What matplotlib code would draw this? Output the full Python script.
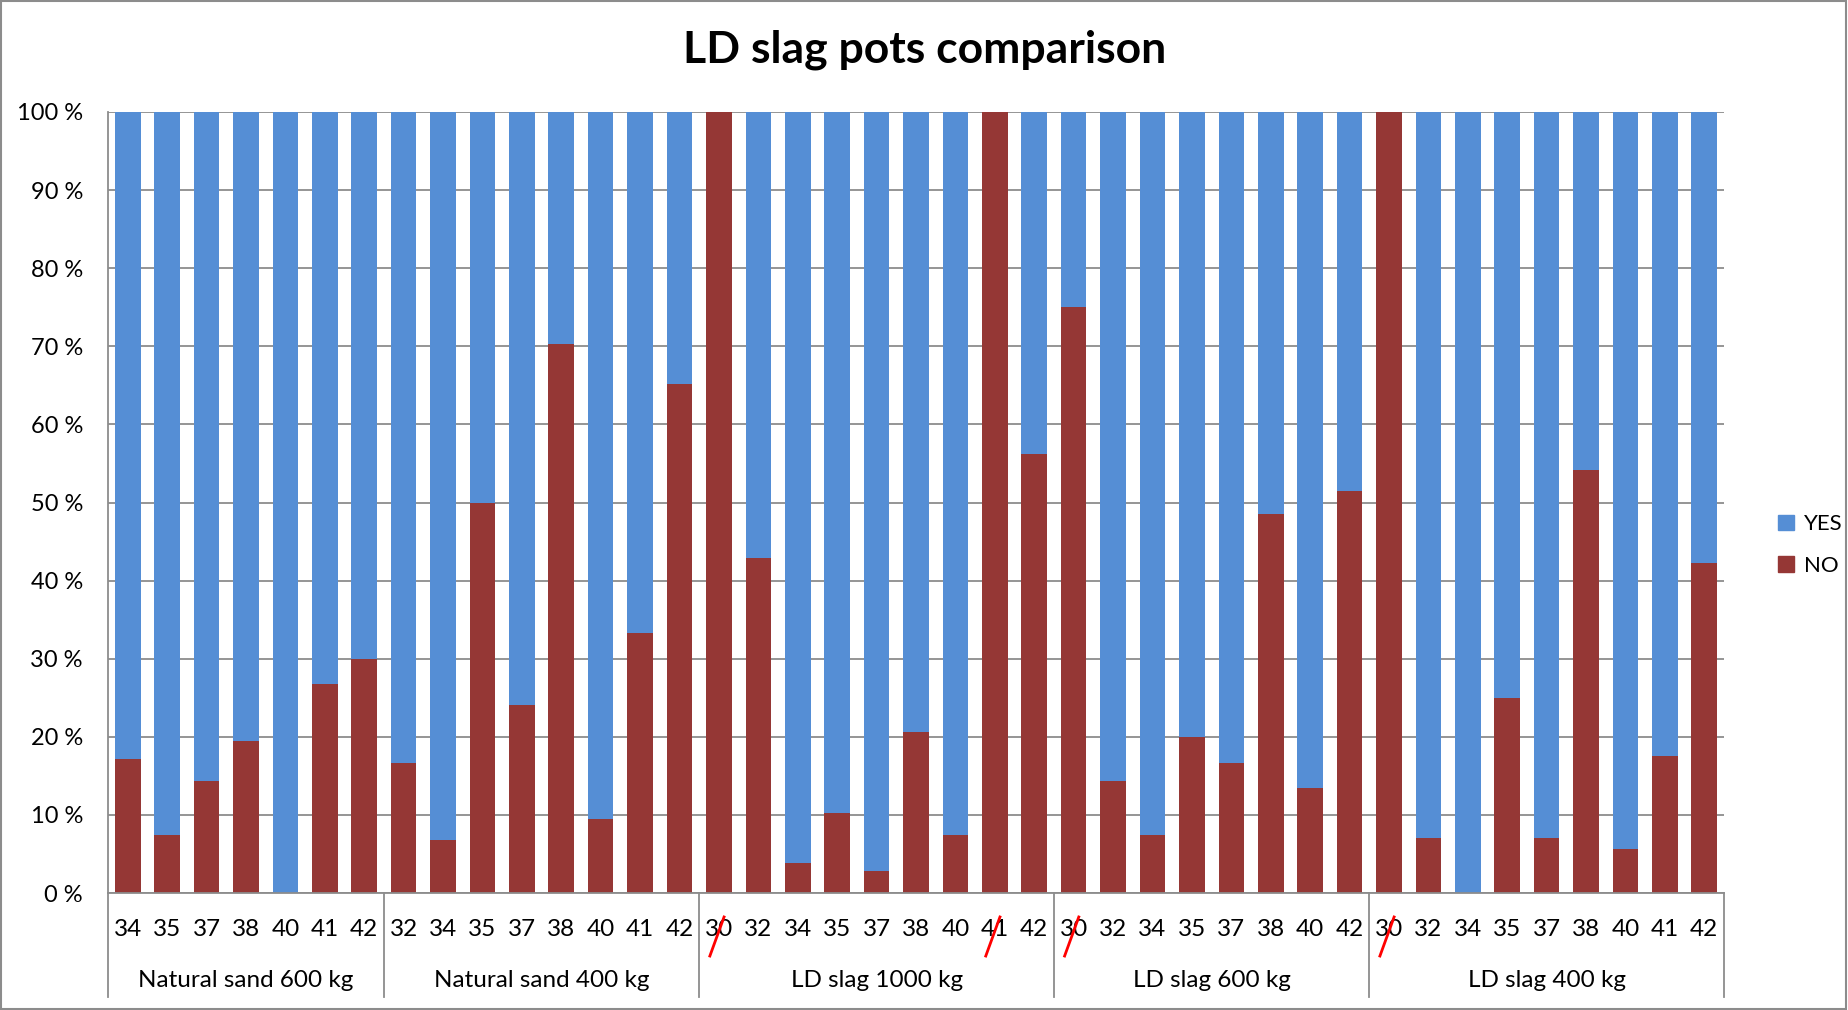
import numpy as np
import matplotlib.pyplot as plt
from matplotlib.patches import Rectangle, Patch
from matplotlib.transforms import blended_transform_factory

plt.rcParams['font.family'] = ['Lato', 'DejaVu Sans']

groups = ['Natural sand 600 kg', 'Natural sand 400 kg', 'LD slag 1000 kg',
          'LD slag 600 kg', 'LD slag 400 kg']
pots = [
    ['34', '35', '37', '38', '40', '41', '42'],
    ['32', '34', '35', '37', '38', '40', '41', '42'],
    ['30', '32', '34', '35', '37', '38', '40', '41', '42'],
    ['30', '32', '34', '35', '37', '38', '40', '42'],
    ['30', '32', '34', '35', '37', '38', '40', '41', '42'],
]
# share of "NO" in percent, YES is the rest
no_ns600 = [17.2, 7.4, 14.3, 19.4, 0.0, 26.7, 30.0]
no_ns400 = [16.7, 6.8, 50.0, 24.1, 70.3, 9.5, 33.3, 65.2]
no_ld1000 = [100.0, 42.9, 3.8, 10.2, 2.8, 20.6, 7.4, 100.0, 56.2]
no_ld600 = [75.0, 14.3, 7.4, 20.0, 16.7, 48.5, 13.4, 51.5]
no_ld400 = [100.0, 7.1, 0.0, 25.0, 7.1, 54.1, 5.6, 17.6, 42.3]
# pots marked with a red slash (group index, pot)
crossed = [(2, '30'), (2, '41'), (3, '30'), (4, '30')]

no_all = no_ns600 + no_ns400 + no_ld1000 + no_ld600 + no_ld400
labels = [p for g in pots for p in g]
no = np.array(no_all)
yes = 100 - no
x = np.arange(len(labels))

fig = plt.figure(figsize=(18.49, 10.10), dpi=100)
ax = fig.add_axes([108/1849, 1-893/1010, (1724-108)/1849, (893-112)/1010])

blue = '#558ED5'
red = '#953735'
gray = '#8c8c8c'

ax.bar(x, no, width=0.65, color=red, zorder=2)
ax.bar(x, yes, bottom=no, width=0.65, color=blue, zorder=2)

ax.set_xlim(-0.5, len(labels) - 0.5)
ax.set_ylim(0, 100)
ax.set_yticks(np.arange(0, 101, 10))
ax.set_yticklabels([f'{v} %' for v in range(0, 101, 10)])
ax.yaxis.grid(True, color=gray, lw=1.3)
ax.set_axisbelow(True)
for s in ['top', 'right']:
    ax.spines[s].set_visible(False)
for s in ['left', 'bottom']:
    ax.spines[s].set_color(gray)
    ax.spines[s].set_linewidth(1.3)

ax.set_xticks(x)
ax.set_xticklabels(labels)
for t in ax.get_xticklabels():
    t.set_va('center')
ax.tick_params(axis='x', length=0, pad=26.5, labelsize=17.5)
ax.tick_params(axis='y', length=0, pad=18, labelsize=17)

tr = blended_transform_factory(ax.transData, ax.transAxes)
sizes = [len(g) for g in pots]
edges = np.concatenate([[0], np.cumsum(sizes)]) - 0.5
for b in edges:
    ax.plot([b, b], [0, -0.133], transform=tr, color=gray, lw=1.3, clip_on=False)
for i, name in enumerate(groups):
    ax.text((edges[i] + edges[i+1]) / 2, -0.1114, name, transform=tr,
            ha='center', va='center', fontsize=17.5)

for gi, p in crossed:
    xi = edges[gi] + 0.5 + pots[gi].index(p)
    ax.plot([xi - 0.23, xi + 0.13], [-0.0807, -0.0307], transform=tr,
            color='red', lw=2, clip_on=False, zorder=5)

handles = [Patch(color=blue, label='YES'), Patch(color=red, label='NO')]
fig.legend(handles=handles, loc='center left', bbox_to_anchor=(1758/1849, 1-545/1010),
           frameon=False, fontsize=16, handlelength=0.7, handleheight=0.7,
           handletextpad=0.45, labelspacing=0.95)

fig.text(0.5, 1-50/1010, 'LD slag pots comparison', ha='center', va='center',
         fontsize=32, fontweight='bold')

fig.add_artist(Rectangle((0.0005, 0.001), 0.998, 0.998, transform=fig.transFigure,
                         fill=False, edgecolor=gray, lw=1.5))

plt.savefig('out.png', dpi=100)
